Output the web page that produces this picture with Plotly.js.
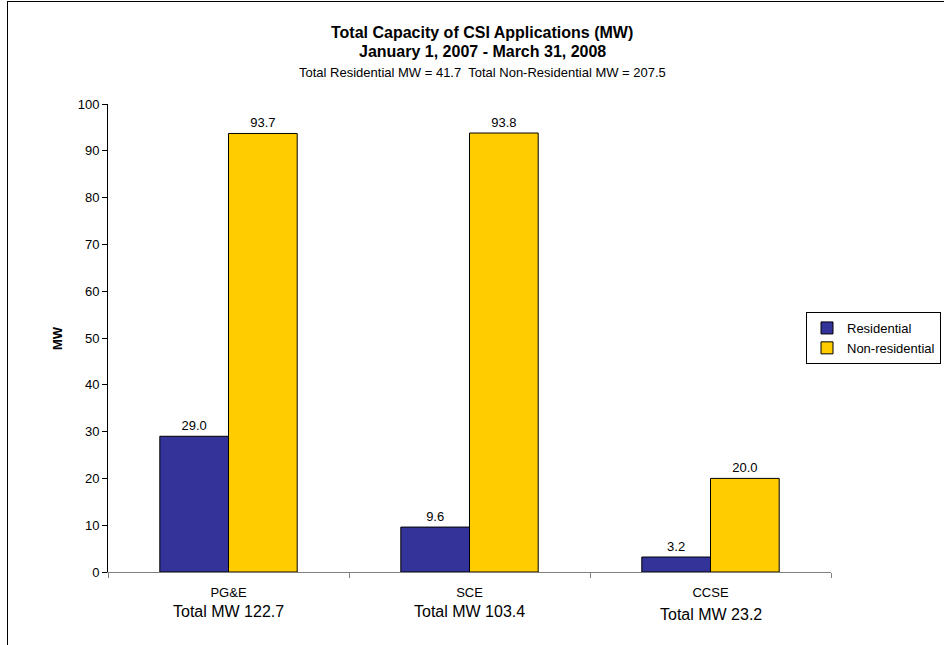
<!DOCTYPE html>
<html>
<head>
<meta charset="utf-8">
<script src="https://cdn.plot.ly/plotly-3.0.1.min.js"></script>
<style>
html,body{margin:0;padding:0;background:#fff;overflow:hidden;}
#wrap{position:relative;width:944px;height:645px;}
#chart{position:absolute;left:0;top:0;width:944px;height:645px;}
#frame{position:absolute;left:7px;top:1px;width:960px;height:700px;border:1px solid #000;pointer-events:none;box-sizing:border-box;}
</style>
</head>
<body>
<div id="wrap"><div id="chart"></div><div id="frame"></div></div>
<script>
const categories = ["PG&E", "SCE", "CCSE"];
const residential = [29.0, 9.6, 3.2];
const nonResidential = [93.7, 93.8, 20.0];
const totalLabels = ["Total MW 122.7", "Total MW 103.4", "Total MW 23.2"];
const seriesNames = ["Residential", "Non-residential"];
const titleLines = ["Total Capacity of CSI Applications (MW)", "January 1, 2007 - March 31, 2008", "Total Residential MW = 41.7  Total Non-Residential MW = 207.5"];
const yTicks = [0, 10, 20, 30, 40, 50, 60, 70, 80, 90, 100];

const FONT = "Liberation Sans, Arial, sans-serif";
const L = 108, R = 831, T = 104, B = 572;
const ph = B - T, pw = R - L;
const py = p => (B - p) / ph;
const px = p => (p - L) / pw;

const traces = [
  {type: "bar", name: seriesNames[0], x: categories, y: residential,
   marker: {color: "#333399", line: {color: "#000", width: 1}},
   text: residential.map(v => v.toFixed(1)), textposition: "outside",
   textfont: {family: FONT, size: 13, color: "#000"}, cliponaxis: false, hoverinfo: "none"},
  {type: "bar", name: seriesNames[1], x: categories, y: nonResidential,
   marker: {color: "#FFCC00", line: {color: "#000", width: 1}},
   text: nonResidential.map(v => v.toFixed(1)), textposition: "outside",
   textfont: {family: FONT, size: 13, color: "#000"}, cliponaxis: false, hoverinfo: "none"}
];

const totalsY = [611, 611, 614];
const annotations = [
  {text: "<b>" + titleLines[0] + "</b>", x: px(482), y: py(32), font: {size: 16}},
  {text: "<b>" + titleLines[1] + "</b>", x: px(482), y: py(52), font: {size: 16}},
  {text: titleLines[2], x: px(482), y: py(72), font: {size: 13}},
  {text: "<b>MW</b>", x: px(57), y: 0.5, textangle: -90, font: {size: 13}}
].map(a => Object.assign({xref: "paper", yref: "paper", showarrow: false, xanchor: "center", yanchor: "middle"}, a));
categories.forEach((c, i) => {
  annotations.push({xref: "x", yref: "paper", x: c, y: py(totalsY[i]), text: totalLabels[i],
    showarrow: false, xanchor: "center", yanchor: "middle", font: {size: 16, family: FONT, color: "#000"}});
});

const layout = {
  width: 944, height: 645,
  margin: {l: L, r: 944 - R, t: T, b: 645 - B, pad: 0, autoexpand: false},
  paper_bgcolor: "#fff", plot_bgcolor: "#fff",
  font: {family: FONT, color: "#000", size: 13},
  barmode: "group", bargap: 0.43, bargroupgap: 0,
  showlegend: true,
  legend: {x: px(806), y: py(312), xanchor: "left", yanchor: "top",
    bordercolor: "#000", borderwidth: 1, bgcolor: "#fff",
    font: {size: 13, family: FONT}, itemwidth: 30, tracegroupgap: 0},
  xaxis: {type: "category", showgrid: false, zeroline: false, showline: true,
    linecolor: "#808080", linewidth: 1, ticks: "outside", tickson: "boundaries",
    ticklen: 5, tickcolor: "#808080", tickfont: {size: 13}, ticklabelstandoff: 8},
  yaxis: {range: [0, 100], tickvals: yTicks, showgrid: false, zeroline: false,
    showline: true, linecolor: "#000", linewidth: 1, ticks: "outside", ticklen: 5,
    tickcolor: "#000", tickfont: {size: 13}},
  annotations: annotations
};

Plotly.newPlot("chart", traces, layout, {displayModeBar: false, staticPlot: true});
</script>
</body>
</html>
